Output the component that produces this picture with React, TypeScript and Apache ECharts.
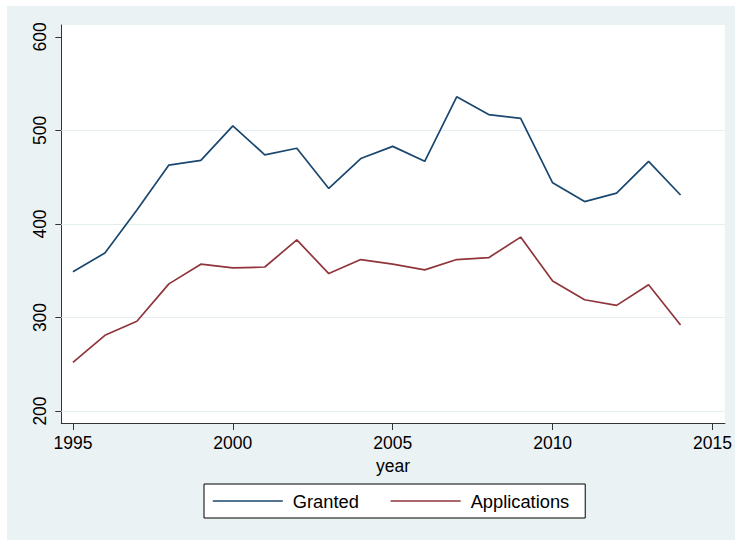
import React, { useEffect, useRef } from "react";
import * as echarts from "echarts";

const years = [1995, 1996, 1997, 1998, 1999, 2000, 2001, 2002, 2003, 2004, 2005, 2006, 2007, 2008, 2009, 2010, 2011, 2012, 2013, 2014];
const granted = [349, 369, 415, 463, 468, 505, 474, 481, 438, 470, 483, 467, 536, 517, 513, 444, 424, 433, 467, 431];
const applications = [252, 281, 296, 336, 357, 353, 354, 383, 347, 362, 357, 351, 362, 364, 386, 339, 319, 313, 335, 292];
const xTicks = [1995, 2000, 2005, 2010, 2015];
const yTicks = [200, 300, 400, 500, 600];
const gridValues = [200, 300, 400, 500];

const FONT = "'Liberation Sans', Arial, Helvetica, sans-serif";

export default function App() {
  const ref = useRef<HTMLDivElement>(null);
  useEffect(() => {
    if (!ref.current) return;
    const chart = echarts.init(ref.current, null, { renderer: "svg" });
    const axisLine = { show: true, lineStyle: { color: "#333", width: 1 } };
    chart.setOption({
      animation: false,
      backgroundColor: "#eaf2f3",
      textStyle: { fontFamily: FONT },
      grid: {
        left: 54.3,
        top: 19,
        right: 7.3,
        bottom: 117,
        show: true,
        backgroundColor: "#ffffff",
        borderWidth: 0,
      },
      legend: {
        left: 197,
        top: 478,
        orient: "horizontal",
        data: ["Granted", "Applications"],
        itemWidth: 70,
        itemHeight: 14,
        itemGap: 31,
        padding: [7, 16, 7, 8],
        backgroundColor: "#ffffff",
        borderColor: "#000",
        borderWidth: 1,
        borderRadius: 0,
        itemStyle: { opacity: 0 },
        lineStyle: { opacity: 1, width: 1.6 },
        textStyle: { fontSize: 18.3, color: "#000", fontFamily: FONT, lineHeight: 20, padding: [0, 0, 0, 5] },
      },
      xAxis: {
        type: "value",
        min: 1994.636,
        max: 2015.386,
        name: "year",
        nameLocation: "middle",
        nameGap: 26,
        nameTextStyle: { fontSize: 17.5, color: "#000", fontFamily: FONT },
        axisLine,
        axisTick: { show: true, length: 7, lineStyle: { color: "#333" }, customValues: xTicks },
        axisLabel: {
          customValues: xTicks,
          fontSize: 17.5,
          color: "#000",
          margin: 11,
          fontFamily: FONT,
          formatter: (v: number) => String(v),
        },
        splitLine: { show: false },
      },
      yAxis: {
        type: "value",
        min: 187.2,
        max: 612.8,
        axisLine,
        axisTick: { show: true, length: 6, lineStyle: { color: "#333" }, customValues: yTicks },
        axisLabel: {
          customValues: yTicks,
          rotate: 90,
          fontSize: 17.5,
          color: "#000",
          margin: 12,
          fontFamily: FONT,
          formatter: (v: number) => String(v),
        },
        splitLine: { show: false },
      },
      series: [
        {
          name: "grid",
          type: "line",
          data: [],
          z: 1,
          silent: true,
          markLine: {
            silent: true,
            z: 1,
            symbol: ["none", "none"],
            label: { show: false },
            lineStyle: { color: "#e4eef0", width: 1.2, type: "solid" },
            data: gridValues.map((v) => ({ yAxis: v })),
          },
        },
        {
          name: "Granted",
          type: "line",
          z: 3,
          symbol: "none",
          data: years.map((y, i) => [y, granted[i]]),
          lineStyle: { color: "#1a476f", width: 1.7 },
          itemStyle: { color: "#1a476f" },
        },
        {
          name: "Applications",
          type: "line",
          z: 3,
          symbol: "none",
          data: years.map((y, i) => [y, applications[i]]),
          lineStyle: { color: "#90353b", width: 1.7 },
          itemStyle: { color: "#90353b" },
        },
      ],
    });
    return () => chart.dispose();
  }, []);
  return (
    <div style={{ position: "fixed", left: 0, top: 0, width: 735, height: 540, background: "#ffffff" }}>
      <div ref={ref} style={{ position: "absolute", left: 7, top: 6, width: 728, height: 534 }} />
    </div>
  );
}
